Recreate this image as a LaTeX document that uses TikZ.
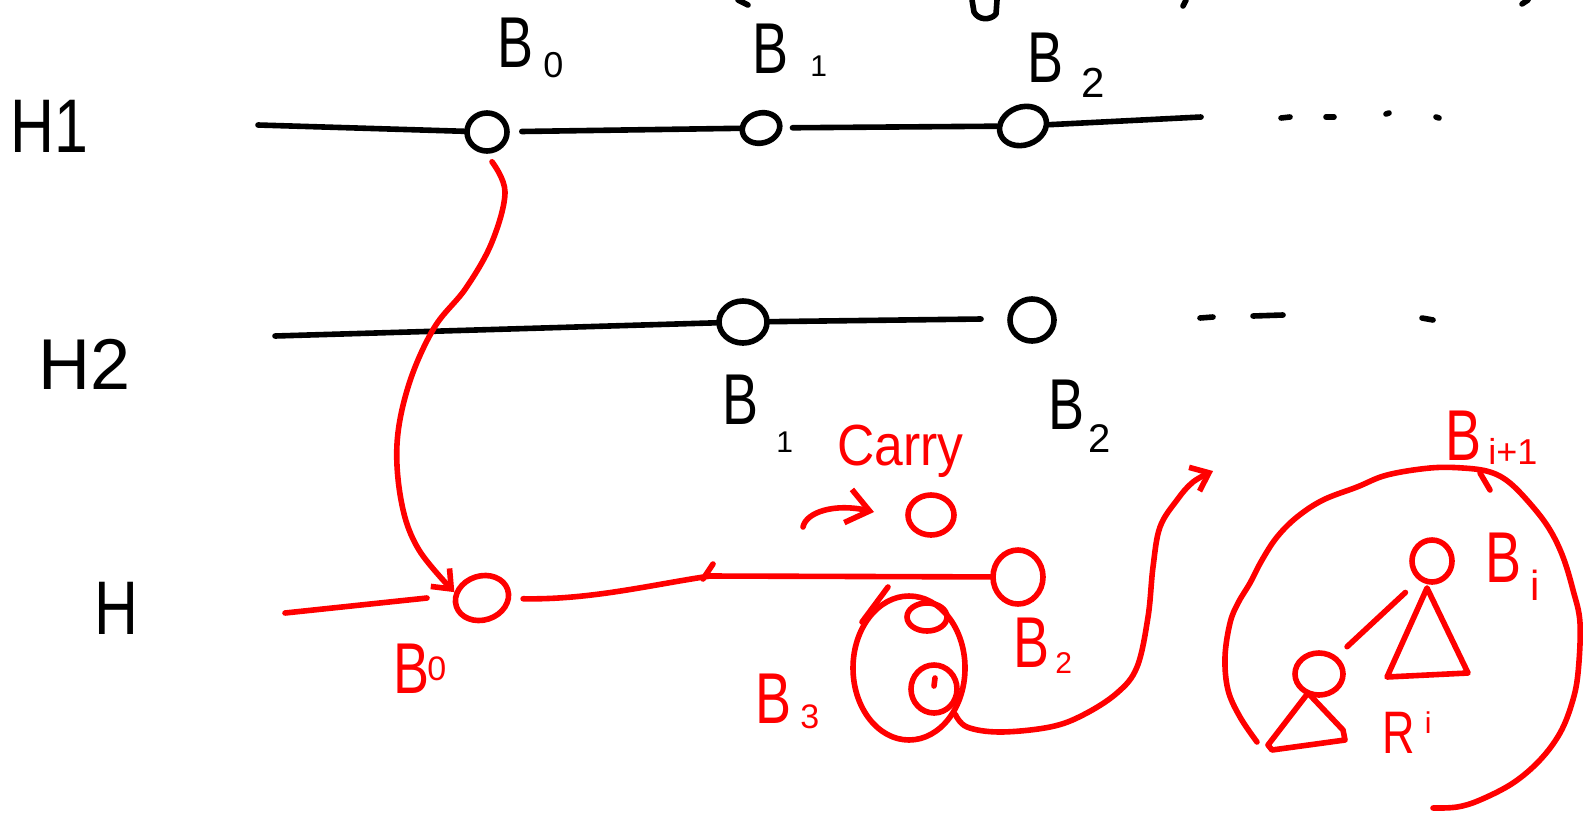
\documentclass[tikz,border=0pt]{standalone}
\usepackage{fontspec}
\usepackage{graphicx}
\setmainfont{Liberation Sans}
\usetikzlibrary{shapes.geometric,arrows.meta}
\newcommand\lab[5]{\scalebox{0.75}[1]{#1}\kern#2\raisebox{#3}{\fontsize{#4}{#4}\selectfont #5}}
\tikzset{
  bk/.style={line width=2.8pt, line cap=round, line join=round, draw=black},
  rd/.style={line width=2.8pt, line cap=round, line join=round, draw=red},
  circ/.style={ellipse, inner sep=0pt},
  lbl/.style={inner sep=0pt, anchor=base west, font=\fontsize{36}{36}\selectfont},
  barb/.style={-{Straight Barb[length=8pt,width=13pt]}},
  bigbarb/.style={-{Straight Barb[length=11pt,width=17pt]}},
}
\begin{document}
\begin{tikzpicture}[x=0.5pt,y=-0.5pt]
\useasboundingbox (0,0) rectangle (1583,814);

% ---------- top-edge fragments ----------
\draw[bk] (738,0) -- (748,5);
\draw[bk] (972,0) -- (974,12) .. controls (978,20) and (990,21) .. (996,14) -- (997,0);
\draw[bk] (1183,6) -- (1186,0);
\draw[bk] (1522,4) -- (1528,0);

% ---------- H1 ----------
\node[lbl, font=\fontsize{38}{38}\selectfont] (tH1) at (10,152) {\scalebox{0.8}[1]{H1}};
\node[lbl] (tB0) at (497,67) {\lab{B}{5pt}{-5pt}{18pt}{0}};
\node[lbl] (tB1) at (752,73) {\lab{B}{11pt}{-1.5pt}{15pt}{1}};
\node[lbl] (tB2) at (1027,82) {\lab{B}{9pt}{-7.5pt}{21pt}{2}};

\node[circ, bk, minimum width=20pt, minimum height=19pt] (h1c0) at (487,132) {};
\node[circ, bk, minimum width=19pt, minimum height=15pt, rotate=15] (h1c1) at (761,128) {};
\node[circ, bk, minimum width=24pt, minimum height=19pt, rotate=20] (h1c2) at (1023,126) {};
\coordinate (h1s) at (258,125);
\coordinate (h1e) at (1201,117);
\draw[bk] (h1s) -- (h1c0);
\draw[bk, shorten <=6pt] (h1c0) -- (h1c1);
\draw[bk, shorten <=5pt] (h1c1) -- (h1c2);
\draw[bk] (h1c2) -- (h1e);
\draw[bk] (1281,118) -- (1290,117);
\draw[bk] (1326,117) -- (1334,117);
\draw[bk] (1386,114) -- (1389,113);
\draw[bk] (1436,117) -- (1439,118);

% ---------- H2 ----------
\node[lbl] (tH2) at (38,389) {H2};
\node[lbl] (tB1b) at (722,424) {\lab{B}{9pt}{-14pt}{15pt}{1}};
\node[lbl] (tB2b) at (1048,429) {\lab{B}{2pt}{-11.5pt}{20pt}{2}};
\node[circ, bk, minimum width=24pt, minimum height=21pt] (h2c1) at (743,322) {};
\node[circ, bk, minimum width=22pt, minimum height=21pt] (h2c2) at (1032,320) {};
\coordinate (h2s) at (275,336);
\coordinate (h2e) at (981,319);
\draw[bk] (h2s) -- (h2c1);
\draw[bk] (h2c1) -- (h2e);
\draw[bk] (1200,318) -- (1213,317);
\draw[bk] (1253,316) -- (1283,315);
\draw[bk] (1422,318) -- (1433,320);

% ---------- H ----------
\node[lbl, font=\fontsize{38}{38}\selectfont] (tH) at (94,634) {\scalebox{0.8}[1]{H}};

% ---------- red level ----------
\node[circ, rd, minimum width=27pt, minimum height=22pt, rotate=18] (hc0) at (482,598) {};
\node[circ, rd, minimum width=25pt, minimum height=27pt] (hc2) at (1018,577) {};
\coordinate (hs) at (285,613);
\coordinate (hse) at (427,598);
\draw[rd] (hs) -- (hse);
\draw[rd, shorten <=6pt] (hc0) .. controls (590,600) and (650,585) .. (710,576) -- (hc2);
\draw[rd] (703,579) -- (713,564);

\node[lbl, text=red] (tB0r) at (393,693) {\lab{B}{-1pt}{6.5pt}{17pt}{0}};
\node[lbl, text=red] (tB2r) at (1013,667) {\lab{B}{3pt}{-3pt}{15pt}{2}};
\node[lbl, text=red] (tB3r) at (755,723) {\lab{B}{4.5pt}{-2.5pt}{17pt}{3}};
\node[lbl, text=red, font=\fontsize{29}{29}\selectfont] (tcarry) at (837,465) {\scalebox{0.89}[1]{Carry}};

% curve from H1 B0 down to H B0
\draw[rd, barb] plot[smooth, tension=0.6] coordinates {([shift={(5,8)}]h1c0.south) (505,192) (492,242) (466,288) (434,328) (409,384) (397,444) (402,505) (419,550) (hc0.150)};

% carry
\node[circ, rd, minimum width=23pt, minimum height=20pt] (cc) at (931,515) {};
\coordinate (ca0) at (803,527);
\coordinate (ca1) at (874,512);
\draw[rd, bigbarb] (ca0) .. controls (806,512) and (835,503) .. (ca1);

% merged tree
\node[circ, rd, minimum width=56pt, minimum height=72pt] (big) at (909,668) {};
\draw[rd] (862,622) -- (888,587);
\node[circ, rd, minimum width=20pt, minimum height=14pt] (in1) at (927,617) {};
\node[circ, rd, minimum width=23pt, minimum height=24pt] (in2) at (934,689) {};
\draw[rd] (935,678) -- (934,686);

\draw[rd, barb] plot[smooth, tension=0.6] coordinates {(big.-45) (967,727) (1000,732) (1050,727) (1083,715) (1117,693) (1137,667) (1148,617) (1153,567) (1160,527) (1177,500) (1193,482) (1213,471)};

% right: big open circle
\draw[rd] plot[smooth, tension=0.6] coordinates {(1257,742) (1240,717) (1228,690) (1225,657) (1230,623) (1238,603) (1250,583) (1262,560) (1277,537) (1297,517) (1323,500) (1357,487) (1387,475) (1430,468) (1463,468) (1490,472) (1510,483) (1533,507) (1550,530) (1563,557) (1573,590) (1580,623) (1578,673) (1572,703) (1560,733) (1540,760) (1513,783) (1480,800) (1457,807) (1433,808)};
\draw[rd] (1480,473) -- (1490,490);
\node[lbl, text=red] (tBi1) at (1445,460) {\lab{B}{3.5pt}{-2pt}{18pt}{i+1}};

\node[circ, rd, minimum width=20pt, minimum height=21pt] (bi) at (1432,561) {};
\node[lbl, text=red] (tBi) at (1485,582) {\lab{B}{4.5pt}{-9pt}{21pt}{i}};
\draw[rd] (1427,588) -- (1387,677) -- (1468,673) -- cycle;

\node[circ, rd, minimum width=24pt, minimum height=21pt] (rc) at (1319,674) {};
\draw[rd, shorten <=9pt, shorten >=7pt] (bi.235) -- (rc.45);
\draw[rd] (1308,693) -- (1268,745) -- (1272,750) -- (1345,740) -- (1343,730) -- cycle;
\node[lbl, text=red, font=\fontsize{30}{30}\selectfont] (tRi) at (1382,753) {\lab{R}{5pt}{10pt}{15pt}{i}};
\end{tikzpicture}
\end{document}
